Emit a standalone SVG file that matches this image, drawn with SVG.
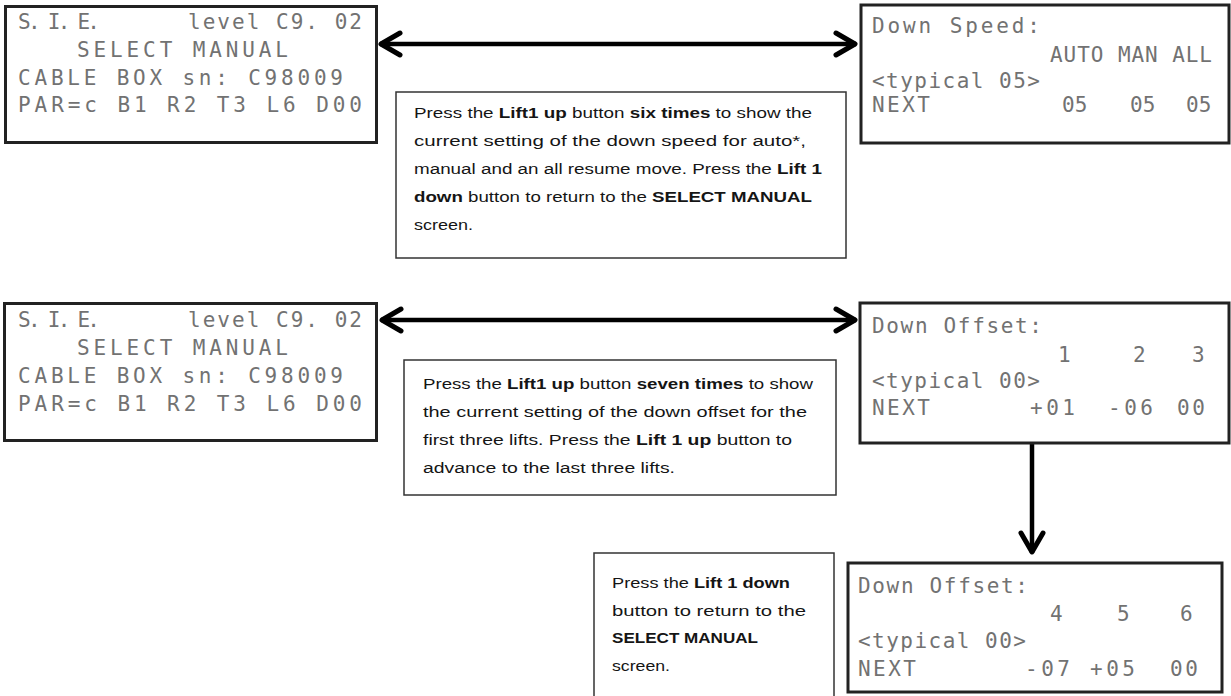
<svg xmlns="http://www.w3.org/2000/svg" width="1231" height="696" viewBox="0 0 1231 696">
<style>
.screen{fill:#fff;stroke:#222;stroke-width:3}
.note{fill:#fff;stroke:#333;stroke-width:1.5}
.lcd{font-family:"DejaVu Sans Mono","Liberation Mono",monospace;font-size:21px;fill:#727272}
.desc{font-family:"Liberation Sans",Arial,sans-serif;font-size:15.5px;fill:#151515}
.b{font-weight:bold}
.conn{stroke:#000;stroke-width:4.5;fill:none}
</style>
<defs>
<marker id="arr" markerUnits="userSpaceOnUse" markerWidth="30" markerHeight="30" viewBox="-24 -15 28 30" refX="0" refY="0" orient="auto-start-reverse">
<path d="M-20,-11 L-1,0 L-20,11" fill="none" stroke="#000" stroke-width="5" stroke-linejoin="round" stroke-linecap="round"/>
</marker>
</defs>

<g id="connectors">
<line class="conn" x1="380" y1="44" x2="856" y2="44" marker-start="url(#arr)" marker-end="url(#arr)"/>
<line class="conn" x1="381" y1="320" x2="856" y2="320" marker-start="url(#arr)" marker-end="url(#arr)"/>
<line class="conn" x1="1032" y1="444" x2="1032" y2="553" marker-end="url(#arr)"/>
</g>

<g id="screen-select-1">
<rect class="screen" x="5.5" y="6.5" width="371" height="136"/>
<text class="lcd" x="18" y="29" textLength="82" lengthAdjust="spacing">S. I. E.</text>
<text class="lcd" x="188" y="29" textLength="174" lengthAdjust="spacing">level C9. 02</text>
<text class="lcd" x="77" y="57" textLength="211" lengthAdjust="spacing">SELECT MANUAL</text>
<text class="lcd" x="18" y="85" textLength="325" lengthAdjust="spacing">CABLE BOX sn: C98009</text>
<text class="lcd" x="18" y="112" textLength="344" lengthAdjust="spacing">PAR=c B1 R2 T3 L6 D00</text>
</g>

<g id="screen-down-speed">
<rect class="screen" x="861" y="5" width="368" height="138"/>
<text class="lcd" x="872" y="33" textLength="168" lengthAdjust="spacing">Down Speed:</text>
<text class="lcd" x="1050" y="62" textLength="162" lengthAdjust="spacing">AUTO MAN ALL</text>
<text class="lcd" x="872" y="88" textLength="168" lengthAdjust="spacing">&lt;typical 05&gt;</text>
<text class="lcd" x="872" y="112" textLength="58" lengthAdjust="spacing">NEXT</text>
<text class="lcd" x="1062" y="112">05</text>
<text class="lcd" x="1130" y="112">05</text>
<text class="lcd" x="1186" y="112">05</text>
</g>

<g id="note-speed">
<rect class="note" x="396" y="92" width="450" height="166"/>
<text class="desc" x="414" y="118" textLength="398" lengthAdjust="spacingAndGlyphs">Press the <tspan class="b">Lift1 up</tspan> button <tspan class="b">six times</tspan> to show the</text>
<text class="desc" x="414" y="146" textLength="392" lengthAdjust="spacingAndGlyphs">current setting of the down speed for auto*,</text>
<text class="desc" x="414" y="174" textLength="408" lengthAdjust="spacingAndGlyphs">manual and an all resume move. Press the <tspan class="b">Lift 1</tspan></text>
<text class="desc" x="414" y="202" textLength="398" lengthAdjust="spacingAndGlyphs"><tspan class="b">down</tspan> button to return to the <tspan class="b">SELECT MANUAL</tspan></text>
<text class="desc" x="414" y="230" textLength="59" lengthAdjust="spacingAndGlyphs">screen.</text>
</g>

<g id="screen-select-2">
<rect class="screen" x="4.5" y="303.5" width="372" height="137"/>
<text class="lcd" x="18" y="327" textLength="82" lengthAdjust="spacing">S. I. E.</text>
<text class="lcd" x="188" y="327" textLength="174" lengthAdjust="spacing">level C9. 02</text>
<text class="lcd" x="77" y="355" textLength="211" lengthAdjust="spacing">SELECT MANUAL</text>
<text class="lcd" x="18" y="383" textLength="325" lengthAdjust="spacing">CABLE BOX sn: C98009</text>
<text class="lcd" x="18" y="411" textLength="344" lengthAdjust="spacing">PAR=c B1 R2 T3 L6 D00</text>
</g>

<g id="screen-offset-1">
<rect class="screen" x="860" y="303" width="369" height="140"/>
<text class="lcd" x="872" y="333" textLength="170" lengthAdjust="spacing">Down Offset:</text>
<text class="lcd" x="1058" y="362">1</text>
<text class="lcd" x="1133" y="362">2</text>
<text class="lcd" x="1192" y="362">3</text>
<text class="lcd" x="872" y="388" textLength="168" lengthAdjust="spacing">&lt;typical 00&gt;</text>
<text class="lcd" x="872" y="415" textLength="58" lengthAdjust="spacing">NEXT</text>
<text class="lcd" x="1030" y="415" textLength="45" lengthAdjust="spacing">+01</text>
<text class="lcd" x="1108" y="415" textLength="45" lengthAdjust="spacing">-06</text>
<text class="lcd" x="1177" y="415" textLength="28" lengthAdjust="spacing">00</text>
</g>

<g id="note-offset">
<rect class="note" x="404" y="360" width="432" height="135"/>
<text class="desc" x="423" y="389" textLength="390" lengthAdjust="spacingAndGlyphs">Press the <tspan class="b">Lift1 up</tspan> button <tspan class="b">seven times</tspan> to show</text>
<text class="desc" x="423" y="417" textLength="384" lengthAdjust="spacingAndGlyphs">the current setting of the down offset for the</text>
<text class="desc" x="423" y="445" textLength="369" lengthAdjust="spacingAndGlyphs">first three lifts. Press the <tspan class="b">Lift 1 up</tspan> button to</text>
<text class="desc" x="423" y="473" textLength="252" lengthAdjust="spacingAndGlyphs">advance to the last three lifts.</text>
</g>

<g id="note-return">
<rect class="note" x="594" y="553" width="240" height="145"/>
<text class="desc" x="612" y="588" textLength="178" lengthAdjust="spacingAndGlyphs">Press the <tspan class="b">Lift 1 down</tspan></text>
<text class="desc" x="612" y="616" textLength="194" lengthAdjust="spacingAndGlyphs">button to return to the</text>
<text class="desc b" x="612" y="643" textLength="146" lengthAdjust="spacingAndGlyphs">SELECT MANUAL</text>
<text class="desc" x="612" y="671" textLength="58" lengthAdjust="spacingAndGlyphs">screen.</text>
</g>

<g id="screen-offset-2">
<rect class="screen" x="848" y="563" width="374" height="129"/>
<text class="lcd" x="858" y="593" textLength="170" lengthAdjust="spacing">Down Offset:</text>
<text class="lcd" x="1050" y="621">4</text>
<text class="lcd" x="1117" y="621">5</text>
<text class="lcd" x="1180" y="621">6</text>
<text class="lcd" x="858" y="648" textLength="168" lengthAdjust="spacing">&lt;typical 00&gt;</text>
<text class="lcd" x="858" y="676" textLength="58" lengthAdjust="spacing">NEXT</text>
<text class="lcd" x="1025" y="676" textLength="45" lengthAdjust="spacing">-07</text>
<text class="lcd" x="1090" y="676" textLength="45" lengthAdjust="spacing">+05</text>
<text class="lcd" x="1170" y="676" textLength="28" lengthAdjust="spacing">00</text>
</g>
</svg>
